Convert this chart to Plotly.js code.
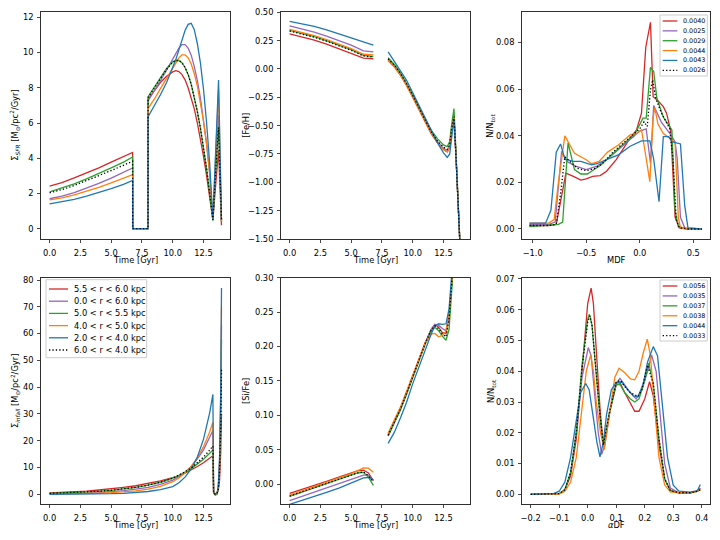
<!DOCTYPE html>
<html><head><meta charset="utf-8">
<script src="https://cdn.plot.ly/plotly-3.0.1.min.js"></script>
<style>html,body{margin:0;padding:0;background:#fff}#chart{width:720px;height:540px}</style>
</head><body><div id="chart"></div>
<script>
// ---------- labels ----------
const radiusLabels = ["5.5 < r < 6.0 kpc","0.0 < r < 6.0 kpc","5.0 < r < 5.5 kpc","4.0 < r < 5.0 kpc","2.0 < r < 4.0 kpc","6.0 < r < 4.0 kpc"];
const mdfLabels = ["0.0040","0.0025","0.0029","0.0044","0.0043","0.0026"];
const adfLabels = ["0.0056","0.0035","0.0037","0.0038","0.0044","0.0033"];
const seriesColors = ["#d62728","#9467bd","#2ca02c","#ff7f0e","#1f77b4","#000000"];
const xTitles = ["Time [Gyr]","Time [Gyr]","MDF","Time [Gyr]","Time [Gyr]","<i>α</i>DF"];
const yTitles = ["Σ<sub><i>SFR</i></sub> [M<sub>⊙</sub>/pc<sup>2</sup>/Gyr]","[Fe/H]","N/N<sub>tot</sub>",
                 "Σ<sub><i>infall</i></sub> [M<sub>⊙</sub>/pc<sup>2</sup>/Gyr]","[Si/Fe]","N/N<sub>tot</sub>"];

// ---------- panel 1: SFR ----------
const tSFR = [0,1,2,3,4,5,6,6.74,6.75,7.99,8.0,8.5,9.0,9.5,10.0,10.25,10.5,10.75,11.0,11.25,11.5,11.75,12.0,12.25,12.5,12.75,13.0,13.26,13.5,13.72,13.96];
const sfrRed    = [2.41,2.62,2.88,3.15,3.45,3.78,4.1,4.33,0,0,7.35,7.85,8.3,8.65,8.9,8.97,8.92,8.75,8.45,8.0,7.45,6.8,6.0,5.1,4.1,3.0,1.8,0.5,2.6,4.45,0.2];
const sfrPurple = [1.70,1.85,2.05,2.3,2.57,2.87,3.2,3.45,0,0,7.25,7.8,8.4,9.0,9.6,9.95,10.25,10.45,10.45,10.25,9.85,9.2,8.4,7.4,6.2,4.8,3.1,0.5,3.8,6.45,0.4];
const sfrGreen  = [2.09,2.3,2.55,2.83,3.13,3.45,3.78,4.07,0,0,7.5,8.05,8.6,9.1,9.47,9.56,9.55,9.42,9.15,8.75,8.2,7.5,6.65,5.7,4.6,3.4,2.0,0.45,3.4,5.8,0.4];
const sfrOrange = [1.63,1.75,1.92,2.12,2.35,2.6,2.85,3.07,0,0,6.83,7.35,7.95,8.5,9.1,9.4,9.7,9.87,9.87,9.7,9.35,8.8,8.1,7.2,6.1,4.8,3.2,0.5,4.6,7.87,0.4];
const sfrBlue   = [1.41,1.52,1.67,1.85,2.05,2.28,2.52,2.74,0,0,6.36,6.95,7.6,8.3,9.1,9.6,10.15,10.75,11.25,11.6,11.66,11.3,10.5,9.4,7.9,6.0,3.7,0.5,5.2,8.44,0.5];
const sfrBlack  = [2.04,2.22,2.45,2.72,3.0,3.3,3.6,3.83,0,0,7.45,8.0,8.55,9.05,9.45,9.55,9.55,9.42,9.15,8.75,8.2,7.5,6.65,5.7,4.6,3.4,2.0,0.5,3.4,5.75,0.45];

// ---------- panel 2: [Fe/H] ----------
const tFe = [0,1,2,3,4,5,6,6.8,7.4,8.0,8.5,9.0,9.5,10.0,10.5,11.0,11.5,12.0,12.5,12.8,13.0,13.15,13.35,13.5,13.7,13.96];
const feRed    = [0.31,0.285,0.255,0.22,0.18,0.14,0.095,0.09,null,0.075,0.02,-0.055,-0.145,-0.25,-0.36,-0.47,-0.57,-0.65,-0.71,-0.73,-0.69,-0.55,-0.43,-0.74,-1.22,-1.85];
const fePurple = [0.38,0.355,0.325,0.29,0.25,0.21,0.16,0.15,null,0.09,0.03,-0.045,-0.135,-0.24,-0.35,-0.46,-0.56,-0.64,-0.70,-0.72,-0.68,-0.54,-0.43,-0.74,-1.22,-1.85];
const feGreen  = [0.34,0.315,0.285,0.25,0.21,0.17,0.12,0.11,null,0.10,0.04,-0.035,-0.125,-0.225,-0.335,-0.445,-0.54,-0.615,-0.67,-0.685,-0.64,-0.50,-0.35,-0.70,-1.20,-1.85];
const feOrange = [0.35,0.325,0.295,0.26,0.22,0.18,0.13,0.125,null,0.075,0.02,-0.055,-0.145,-0.25,-0.36,-0.47,-0.57,-0.65,-0.71,-0.73,-0.69,-0.55,-0.43,-0.74,-1.22,-1.85];
const feBlue   = [0.42,0.40,0.375,0.345,0.31,0.275,0.235,0.21,null,0.15,0.07,-0.01,-0.10,-0.21,-0.32,-0.44,-0.55,-0.65,-0.74,-0.78,-0.75,-0.60,-0.44,-0.75,-1.23,-1.85];
const feBlack  = [0.335,0.31,0.28,0.245,0.205,0.165,0.115,0.105,null,0.09,0.035,-0.04,-0.13,-0.235,-0.345,-0.455,-0.555,-0.635,-0.69,-0.71,-0.67,-0.53,-0.42,-0.74,-1.22,-1.85];

// ---------- panel 3: MDF ----------
const mdfRedX = [-1.03,-0.95,-0.85,-0.78,-0.74,-0.69,-0.62,-0.55,-0.50,-0.44,-0.37,-0.31,-0.22,-0.09,-0.03,0.016,0.056,0.10,0.125,0.17,0.22,0.25,0.29,0.33,0.37,0.45,0.58];
const mdfRedY = [0.0015,0.0015,0.0015,0.002,0.012,0.024,0.0226,0.021,0.0215,0.0226,0.0229,0.0248,0.0298,0.039,0.0425,0.0497,0.078,0.0887,0.0568,0.055,0.0525,0.0497,0.042,0.005,0.0005,0,0];
const mdfPurpleX = [-1.03,-0.85,-0.79,-0.76,-0.73,-0.68,-0.60,-0.50,-0.40,-0.30,-0.20,-0.10,0.0,0.06,0.10,0.13,0.16,0.20,0.28,0.33,0.35,0.38,0.42,0.58];
const mdfPurpleY = [0.002,0.002,0.003,0.02,0.0333,0.029,0.027,0.0255,0.027,0.030,0.034,0.038,0.042,0.043,0.0282,0.053,0.050,0.046,0.041,0.0375,0.030,0.005,0.0005,0];
const mdfGreenX = [-1.03,-0.85,-0.76,-0.72,-0.67,-0.61,-0.55,-0.49,-0.43,-0.36,-0.26,-0.09,-0.06,0.0,0.03,0.06,0.10,0.13,0.16,0.22,0.27,0.30,0.33,0.36,0.45,0.58];
const mdfGreenY = [0.001,0.0015,0.002,0.003,0.037,0.0255,0.0236,0.0236,0.0255,0.0276,0.032,0.039,0.0396,0.0454,0.0476,0.0476,0.0694,0.0676,0.0561,0.048,0.0447,0.0425,0.008,0.001,0,0];
const mdfOrangeX = [-1.03,-0.85,-0.80,-0.76,-0.70,-0.61,-0.50,-0.45,-0.38,-0.30,-0.20,-0.09,-0.03,0.016,0.047,0.094,0.125,0.14,0.17,0.22,0.28,0.33,0.36,0.38,0.45,0.58];
const mdfOrangeY = [0.0025,0.0025,0.004,0.02,0.040,0.0325,0.0297,0.028,0.029,0.033,0.036,0.0404,0.041,0.0425,0.034,0.0203,0.048,0.052,0.045,0.041,0.039,0.037,0.005,0.0006,0,0];
const mdfBlueX = [-1.03,-0.88,-0.83,-0.78,-0.74,-0.70,-0.62,-0.55,-0.45,-0.40,-0.30,-0.20,-0.09,0.016,0.094,0.13,0.18,0.22,0.27,0.30,0.38,0.42,0.45,0.58];
const mdfBlueY = [0.0025,0.0025,0.008,0.033,0.0365,0.030,0.029,0.029,0.0275,0.028,0.030,0.0318,0.0355,0.0378,0.0378,0.030,0.0117,0.0396,0.0396,0.0375,0.0365,0.010,0.0005,0];
const mdfBlackX = [-1.03,-0.85,-0.78,-0.74,-0.70,-0.65,-0.58,-0.50,-0.42,-0.35,-0.25,-0.10,0.0,0.04,0.07,0.10,0.12,0.15,0.20,0.28,0.31,0.34,0.37,0.45,0.58];
const mdfBlackY = [0.0015,0.0015,0.002,0.015,0.031,0.029,0.026,0.025,0.026,0.028,0.033,0.039,0.043,0.046,0.044,0.0597,0.064,0.056,0.050,0.043,0.030,0.004,0.0005,0,0];

// ---------- panel 4: infall ----------
const tInf = [0,1,2,3,4,5,6,7,8,9,10,10.5,11,11.5,12,12.5,13,13.26,13.32,13.45,13.6,13.7,13.8,13.9,13.96];
const infRed    = [0.5,0.7,0.9,1.2,1.6,2.0,2.6,3.2,4.0,5.0,6.2,6.9,7.9,9.0,10.4,11.8,13.4,14.4,0.5,0.3,0.5,1.5,5,16,30];
const infPurple = [0.15,0.2,0.3,0.45,0.65,0.95,1.35,1.9,2.6,3.7,5.3,6.6,8.3,10.4,13.2,16.6,21.2,23.8,0.5,0.0,0.3,2.5,11,33,63];
const infGreen  = [0.3,0.45,0.6,0.85,1.1,1.45,2.0,2.6,3.4,4.5,6.0,7.0,8.2,9.6,11.3,13.1,15.3,16.5,0.5,-0.3,0.0,2.0,10,30,58];
const infOrange = [0.1,0.12,0.18,0.27,0.4,0.6,0.9,1.3,1.95,3.0,4.7,6.1,8.0,10.4,13.6,17.8,23.3,26.9,0.5,0.0,0.3,2.8,12,37,70];
const infBlue   = [0.02,0.03,0.05,0.08,0.13,0.22,0.37,0.62,1.05,1.75,2.9,4.3,6.4,9.5,13.9,20.6,30.4,37.3,0.5,0.0,0.4,3.0,13,40,77];
const infBlack  = [0.35,0.5,0.65,0.9,1.15,1.5,2.0,2.6,3.4,4.5,6.0,7.1,8.4,9.8,11.7,13.9,16.5,18.0,0.5,0.0,0.3,1.8,8,25,47];

// ---------- panel 5: [Si/Fe] ----------
const tSi = [0,1,2,3,4,5,5.5,6.0,6.4,6.8,7.4,8.0,8.5,9.0,9.5,10.0,10.5,11.0,11.5,11.8,12.1,12.4,12.7,12.95,13.2,13.4];
const siRed    = [-0.0135,-0.008,-0.002,0.004,0.010,0.016,0.019,0.020,0.016,0.005,null,0.072,0.090,0.110,0.133,0.158,0.182,0.205,0.225,0.232,0.228,0.220,0.219,0.245,0.30,0.36];
const siPurple = [-0.024,-0.018,-0.012,-0.006,0.000,0.006,0.010,0.013,0.013,0.005,null,0.070,0.088,0.108,0.131,0.156,0.180,0.204,0.225,0.232,0.231,0.226,0.223,0.245,0.30,0.36];
const siGreen  = [-0.018,-0.012,-0.006,0.000,0.006,0.012,0.016,0.017,0.010,-0.002,null,0.070,0.088,0.108,0.131,0.156,0.180,0.203,0.222,0.228,0.223,0.215,0.209,0.225,0.29,0.36];
const siOrange = [-0.016,-0.010,-0.004,0.002,0.008,0.015,0.019,0.0235,0.023,0.017,null,0.074,0.092,0.112,0.135,0.159,0.183,0.205,0.218,0.219,0.214,0.216,0.222,0.250,0.30,0.36];
const siBlue   = [-0.0295,-0.024,-0.018,-0.012,-0.006,0.001,0.005,0.009,0.0095,0.006,null,0.059,0.075,0.096,0.119,0.146,0.171,0.195,0.218,0.230,0.233,0.232,0.233,0.255,0.30,0.36];
const siBlack  = [-0.0175,-0.0115,-0.0055,0.0005,0.0065,0.0125,0.016,0.0175,0.012,0.003,null,0.071,0.089,0.109,0.132,0.157,0.181,0.204,0.224,0.230,0.226,0.218,0.214,0.240,0.30,0.36];

// ---------- panel 6: alpha DF ----------
const adfRedX = [-0.2,-0.1,-0.08,-0.06,-0.04,-0.02,0.0,0.012,0.02,0.032,0.043,0.055,0.075,0.1,0.115,0.13,0.15,0.165,0.18,0.2,0.217,0.23,0.25,0.27,0.29,0.32,0.36,0.385,0.395];
const adfRedY = [0,0.0002,0.0015,0.006,0.018,0.040,0.062,0.067,0.062,0.044,0.028,0.0155,0.026,0.0355,0.036,0.033,0.0295,0.027,0.027,0.031,0.0366,0.032,0.016,0.005,0.0012,0.0005,0.0005,0.001,0.002];
const adfPurpleX = [-0.2,-0.1,-0.08,-0.06,-0.04,-0.02,0.002,0.012,0.025,0.037,0.049,0.06,0.08,0.1,0.113,0.13,0.15,0.17,0.19,0.21,0.224,0.24,0.255,0.27,0.29,0.32,0.36,0.385,0.395];
const adfPurpleY = [0,0.0002,0.0015,0.007,0.020,0.038,0.0477,0.045,0.032,0.020,0.013,0.016,0.028,0.036,0.0377,0.0355,0.033,0.031,0.034,0.040,0.0453,0.040,0.025,0.010,0.002,0.0005,0.0005,0.001,0.0018];
const adfGreenX = [-0.2,-0.1,-0.08,-0.06,-0.04,-0.02,0.0,0.006,0.015,0.03,0.043,0.055,0.075,0.1,0.115,0.13,0.15,0.165,0.18,0.2,0.214,0.23,0.25,0.27,0.29,0.32,0.36,0.385,0.395];
const adfGreenY = [0,0.0002,0.0015,0.007,0.020,0.042,0.057,0.0585,0.055,0.038,0.025,0.0155,0.026,0.036,0.0355,0.033,0.031,0.030,0.031,0.037,0.0426,0.036,0.018,0.005,0.0012,0.0005,0.0005,0.001,0.0015];
const adfOrangeX = [-0.2,-0.1,-0.08,-0.06,-0.04,-0.02,-0.005,0.0105,0.02,0.03,0.045,0.058,0.075,0.095,0.11,0.13,0.15,0.165,0.18,0.195,0.209,0.22,0.235,0.25,0.27,0.29,0.32,0.36,0.385,0.395];
const adfOrangeY = [0,0.0001,0.001,0.004,0.012,0.028,0.040,0.0453,0.040,0.030,0.020,0.0145,0.025,0.038,0.041,0.0395,0.0375,0.0372,0.040,0.046,0.0504,0.045,0.028,0.012,0.003,0.0008,0.0005,0.0005,0.001,0.0015];
const adfBlueX = [-0.2,-0.12,-0.1,-0.08,-0.06,-0.04,-0.025,-0.007,0.005,0.02,0.032,0.043,0.055,0.066,0.083,0.1,0.12,0.14,0.16,0.177,0.195,0.21,0.23,0.245,0.26,0.28,0.3,0.32,0.36,0.385,0.395];
const adfBlueY = [0,0.0002,0.001,0.004,0.012,0.024,0.033,0.036,0.034,0.0247,0.017,0.0122,0.017,0.0259,0.034,0.0364,0.0365,0.034,0.032,0.0317,0.036,0.043,0.048,0.045,0.030,0.012,0.003,0.001,0.0007,0.0012,0.0032];
const adfBlackX = [-0.2,-0.1,-0.08,-0.06,-0.04,-0.02,0.0,0.008,0.015,0.03,0.043,0.055,0.075,0.1,0.115,0.13,0.15,0.177,0.19,0.2,0.21,0.23,0.25,0.27,0.29,0.32,0.36,0.385,0.395];
const adfBlackY = [0,0.0002,0.0015,0.007,0.020,0.041,0.056,0.058,0.055,0.039,0.026,0.016,0.026,0.0365,0.037,0.035,0.033,0.0318,0.034,0.038,0.042,0.036,0.018,0.005,0.0012,0.0005,0.0005,0.001,0.0015];

// ---------- build ----------
const FONT = "DejaVu Sans, Liberation Sans, sans-serif";
const FS = 8.3;
const LW = 1.3;
const DOT = "1.3px,2.1px";
function trace(x, y, i, n) {
  return {type:"scatter", mode:"lines", x:x, y:y, xaxis:"x"+n, yaxis:"y"+n,
    line:{color:seriesColors[i], width:LW, dash: i===5 ? DOT : "solid"},
    showlegend:false, hoverinfo:"skip"};
}
const traces = [];
[sfrRed,sfrPurple,sfrGreen,sfrOrange,sfrBlue,sfrBlack].forEach((y,i)=>traces.push(trace(tSFR,y,i,"")));
[feRed,fePurple,feGreen,feOrange,feBlue,feBlack].forEach((y,i)=>traces.push(trace(tFe,y,i,"2")));
[[mdfRedX,mdfRedY],[mdfPurpleX,mdfPurpleY],[mdfGreenX,mdfGreenY],[mdfOrangeX,mdfOrangeY],[mdfBlueX,mdfBlueY],[mdfBlackX,mdfBlackY]].forEach((p,i)=>traces.push(trace(p[0],p[1],i,"3")));
[infRed,infPurple,infGreen,infOrange,infBlue,infBlack].forEach((y,i)=>traces.push(trace(tInf,y,i,"4")));
[siRed,siPurple,siGreen,siOrange,siBlue,siBlack].forEach((y,i)=>traces.push(trace(tSi,y,i,"5")));
[[adfRedX,adfRedY],[adfPurpleX,adfPurpleY],[adfGreenX,adfGreenY],[adfOrangeX,adfOrangeY],[adfBlueX,adfBlueY],[adfBlackX,adfBlackY]].forEach((p,i)=>traces.push(trace(p[0],p[1],i,"6")));

const W = 720, H = 540;
function axis(domain, anchor, range, dtick, fmt, isX) {
  return {domain:domain, anchor:anchor, range:range, dtick:dtick, tick0:0, tickformat:fmt,
    showline:true, mirror:true, linecolor:"#1a1a1a", linewidth:0.9, ticks:"outside", ticklen:3,
    tickwidth:0.8, tickcolor:"#1a1a1a", showgrid:false, zeroline:false, fixedrange:true,
    ticklabelstandoff: isX ? 3 : 2,
    tickfont:{family:FONT, size:FS, color:"#000"}};
}
const colPx = [[41,230],[281,470],[522,710]];
const rowPx = [[12.3,239],[277.7,504.3]];
const colX = colPx.map(c=>[c[0]/W, c[1]/W]);
const rowTop = [1-rowPx[0][1]/H, 1-rowPx[0][0]/H], rowBot = [1-rowPx[1][1]/H, 1-rowPx[1][0]/H];
const tRange = [-0.7, 14.65];
const layout = {
  width:W, height:H, margin:{l:0,r:0,t:0,b:0}, paper_bgcolor:"#fff", plot_bgcolor:"#fff",
  font:{family:FONT, size:FS, color:"#000"}, showlegend:false, hovermode:false,
  xaxis:  axis(colX[0],"y", tRange,2.5,".1f",true),
  yaxis:  axis(rowTop,"x",[-0.585,12.285],2,"d",false),
  xaxis2: axis(colX[1],"y2",tRange,2.5,".1f",true),
  yaxis2: axis(rowTop,"x2",[-1.5,0.5],0.25,".2f",false),
  xaxis3: axis(colX[2],"y3",[-1.1,0.656],0.5,".1f",true),
  yaxis3: axis(rowTop,"x3",[-0.0043,0.093],0.02,".2f",false),
  xaxis4: axis(colX[0],"y4",tRange,2.5,".1f",true),
  yaxis4: axis(rowBot,"x4",[-3.73,80.86],10,"d",false),
  xaxis5: axis(colX[1],"y5",tRange,2.5,".1f",true),
  yaxis5: axis(rowBot,"x5",[-0.0295,0.30],0.05,".2f",false),
  xaxis6: axis(colX[2],"y6",[-0.2305,0.429],0.1,".1f",true),
  yaxis6: axis(rowBot,"x6",[-0.00325,0.0704],0.01,".2f",false),
  shapes:[], annotations:[]
};

// axis titles (placed like matplotlib labels)
const yTitleX = [15, 246, 491];
for (let r = 0; r < 2; r++) {
  for (let c = 0; c < 3; c++) {
    const k = r*3 + c;
    const cx = (colPx[c][0]+colPx[c][1])/2;
    const cy = (rowPx[r][0]+rowPx[r][1])/2;
    layout.annotations.push({xref:"paper", yref:"paper", x:cx/W, y:1-(rowPx[r][1]+21)/H,
      xanchor:"center", yanchor:"middle", showarrow:false, text:xTitles[k],
      font:{family:FONT, size:FS, color:"#000"}});
    layout.annotations.push({xref:"paper", yref:"paper", x:yTitleX[c]/W, y:1-cy/H,
      xanchor:"center", yanchor:"middle", textangle:-90, showarrow:false, text:yTitles[k],
      font:{family:FONT, size:FS, color:"#000"}});
  }
}

// hand-built legends (matplotlib style, compact rows)
function legend(box, firstRow, step, sx0, sx1, tx, fs, labels) {
  layout.shapes.push({type:"rect", xref:"paper", yref:"paper", layer:"above",
    x0:box[0]/W, x1:box[2]/W, y0:1-box[3]/H, y1:1-box[1]/H,
    line:{color:"#cccccc", width:1}, fillcolor:"rgba(255,255,255,0.85)"});
  labels.forEach((lab,i)=>{
    const yy = 1-(firstRow+i*step)/H;
    layout.shapes.push({type:"line", xref:"paper", yref:"paper", layer:"above",
      x0:sx0/W, x1:sx1/W, y0:yy, y1:yy,
      line:{color:seriesColors[i], width:LW, dash: i===5 ? DOT : "solid"}});
    layout.annotations.push({xref:"paper", yref:"paper", x:tx/W, y:yy, xanchor:"left", yanchor:"middle",
      showarrow:false, text:lab, font:{family:FONT, size:fs, color:"#000"}});
  });
}
legend([660,15,707.3,76], 21, 9.86, 662.7, 677.3, 680.5, 6.4, mdfLabels);
legend([660,280,707.3,341], 286, 9.92, 662.7, 677.3, 680.5, 6.4, adfLabels);
legend([46,279.7,146.7,357.7], 289, 12.2, 49, 68, 72, 8.3, radiusLabels);

Plotly.newPlot("chart", traces, layout, {staticPlot:true, displayModeBar:false});
</script></body></html>
